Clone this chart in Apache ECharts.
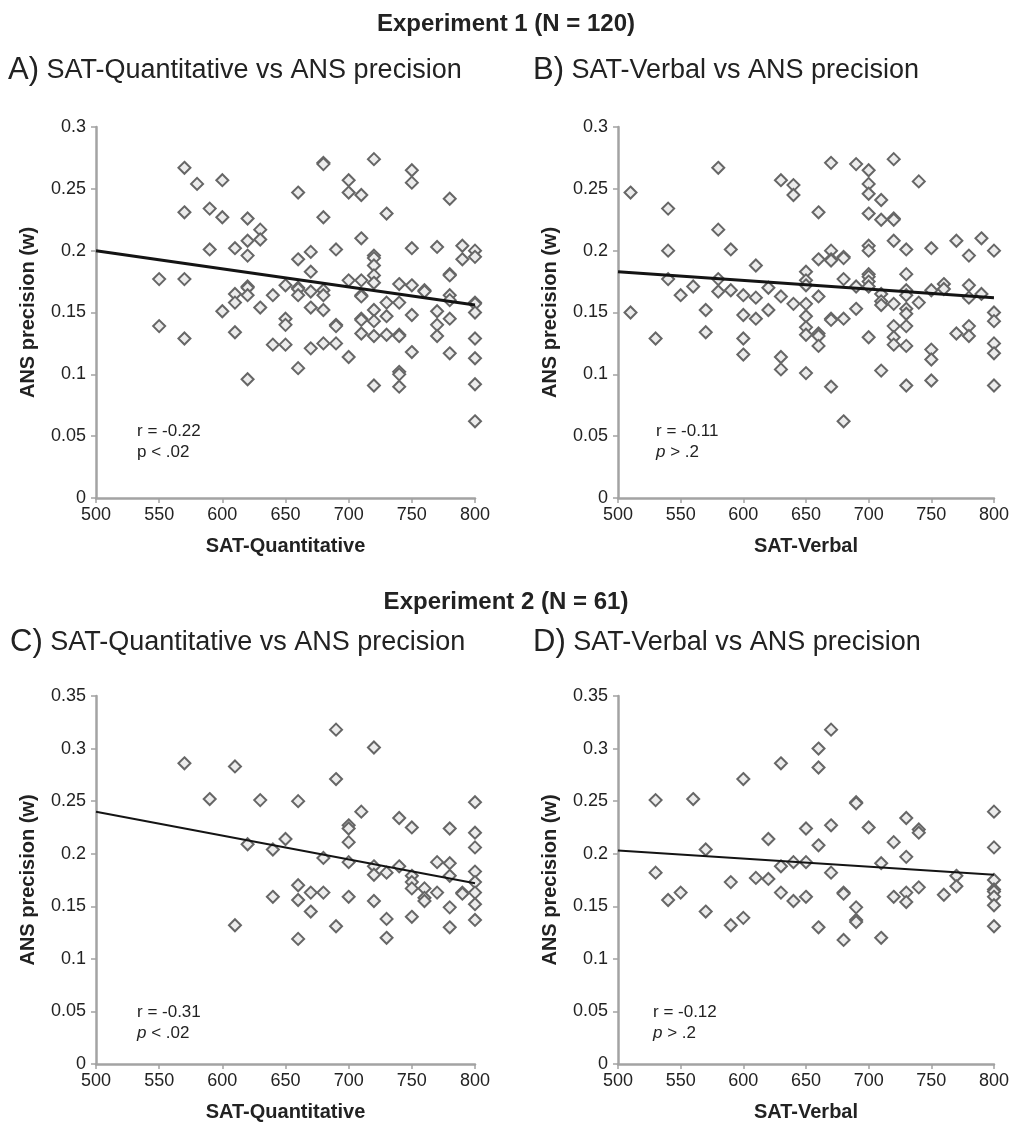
<!DOCTYPE html>
<html>
<head>
<meta charset="utf-8">
<title>SAT vs ANS precision</title>
<script src="https://cdn.jsdelivr.net/npm/echarts@6/dist/echarts.min.js"></script>
<style>
  html, body { margin: 0; padding: 0; background: #fff; }
  #chart { width: 1012px; height: 1123px; }
</style>
</head>
<body>
<div id="chart"></div>
<script>
// Experiment 1, panel A: [SAT-Quantitative, ANS w]
const expOneQuant = [
  [570,0.267],[580,0.254],[600,0.257],[570,0.231],[590,0.234],[600,0.227],[620,0.226],[630,0.217],
  [620,0.208],[630,0.209],[590,0.201],[610,0.202],[620,0.196],[550,0.177],[570,0.177],
  [660,0.247],[680,0.271],[680,0.27],[680,0.227],[660,0.193],[670,0.199],[670,0.183],[690,0.201],
  [700,0.257],[700,0.247],[710,0.245],[720,0.274],[710,0.21],[730,0.23],[720,0.196],[720,0.194],
  [720,0.188],[720,0.18],[720,0.174],[750,0.265],[750,0.255],[750,0.202],[770,0.203],[780,0.242],
  [780,0.181],[780,0.18],[790,0.204],[790,0.193],[800,0.2],[800,0.195],
  [700,0.176],[710,0.176],[740,0.173],[750,0.172],[760,0.168],[760,0.167],[780,0.164],[780,0.16],
  [800,0.158],[800,0.157],
  [610,0.165],[610,0.158],[620,0.171],[620,0.17],[620,0.164],[640,0.164],[650,0.172],[660,0.17],
  [660,0.169],[660,0.164],[670,0.167],[680,0.168],[680,0.164],[710,0.164],[710,0.163],[730,0.158],
  [740,0.158],[600,0.151],[630,0.154],[670,0.154],[680,0.152],[770,0.151],[800,0.15],
  [650,0.145],[650,0.14],[710,0.145],[710,0.144],[720,0.152],[750,0.148],[780,0.145],[550,0.139],
  [570,0.129],[610,0.134],[690,0.14],[690,0.139],[710,0.133],[720,0.143],[720,0.131],[730,0.147],
  [730,0.132],[740,0.132],[740,0.131],[770,0.14],[770,0.131],[800,0.129],[640,0.124],[650,0.124],
  [670,0.121],[680,0.125],[690,0.125],[700,0.114],[750,0.118],[780,0.117],[800,0.113],[660,0.105],
  [620,0.096],[740,0.102],[740,0.1],[720,0.091],[740,0.09],[800,0.092],[800,0.062]
];

// Experiment 1, panel B: [SAT-Verbal, ANS w]
const expOneVerbal = [
  [510,0.247],[540,0.234],[540,0.2],[540,0.177],[510,0.15],[550,0.164],[560,0.171],[570,0.152],
  [580,0.267],[580,0.217],[580,0.177],[580,0.167],[590,0.201],[590,0.168],[600,0.164],[600,0.148],
  [610,0.188],[610,0.162],[610,0.145],[620,0.17],[620,0.152],[630,0.257],[630,0.163],[640,0.253],
  [640,0.245],[640,0.157],[650,0.183],[650,0.176],[650,0.172],[650,0.157],[650,0.147],[660,0.231],
  [660,0.193],[660,0.163],[670,0.271],[670,0.2],[670,0.193],[670,0.192],[670,0.145],[670,0.144],
  [680,0.195],[680,0.194],[680,0.177],[680,0.145],[690,0.27],[690,0.171],[690,0.153],[700,0.265],
  [700,0.254],[700,0.246],[700,0.23],[700,0.204],[700,0.2],[700,0.181],[700,0.179],[700,0.175],
  [700,0.171],[710,0.241],[710,0.225],[710,0.165],[710,0.159],[710,0.156],[720,0.274],[720,0.226],
  [720,0.225],[720,0.208],[720,0.157],[730,0.201],[730,0.181],[730,0.168],[730,0.164],[730,0.153],
  [730,0.149],[740,0.256],[740,0.158],[750,0.202],[750,0.168],[760,0.173],[760,0.169],[770,0.208],
  [780,0.196],[780,0.172],[780,0.162],[790,0.21],[790,0.165],[800,0.2],[800,0.15],
  [530,0.129],[570,0.134],[600,0.129],[600,0.116],[630,0.114],[630,0.104],[650,0.138],[650,0.132],
  [650,0.101],[660,0.133],[660,0.131],[660,0.123],[670,0.09],[680,0.062],[700,0.13],[710,0.103],
  [720,0.139],[720,0.13],[720,0.124],[730,0.139],[730,0.123],[730,0.091],[750,0.12],[750,0.112],
  [750,0.095],[770,0.133],[780,0.139],[780,0.131],[800,0.143],[800,0.125],[800,0.117],[800,0.091]
];

// Experiment 2, panel C
const expTwoQuant = [
  [570,0.286],[610,0.283],[690,0.318],[720,0.301],[690,0.271],[590,0.252],[630,0.251],[660,0.25],
  [800,0.249],[710,0.24],[740,0.234],[750,0.225],[700,0.227],[700,0.224],[780,0.224],[800,0.22],
  [800,0.206],[700,0.211],[620,0.209],[640,0.204],[650,0.214],[680,0.196],[700,0.192],[720,0.188],
  [740,0.188],[770,0.192],[780,0.191],[800,0.183],[720,0.18],[730,0.182],[750,0.179],
  [750,0.173],[750,0.167],[780,0.179],[800,0.173],[660,0.17],[670,0.163],[680,0.163],[660,0.156],
  [640,0.159],[670,0.145],[700,0.159],[720,0.155],[760,0.167],[760,0.158],[760,0.155],[770,0.163],
  [790,0.163],[790,0.162],[800,0.163],[800,0.152],[780,0.149],[730,0.138],[750,0.14],[800,0.137],
  [610,0.132],[690,0.131],[780,0.13],[660,0.119],[730,0.12]
];

// Experiment 2, panel D
const expTwoVerbal = [
  [530,0.251],[560,0.252],[600,0.271],[630,0.286],[660,0.3],[660,0.282],[670,0.318],[690,0.249],
  [690,0.248],[570,0.204],[620,0.214],[650,0.224],[660,0.208],[670,0.227],[700,0.225],[720,0.211],
  [730,0.234],[740,0.223],[740,0.22],[800,0.24],[800,0.206],[730,0.197],[710,0.191],[630,0.188],
  [640,0.192],[650,0.192],[530,0.182],[670,0.182],
  [770,0.179],[770,0.169],[760,0.161],[740,0.168],[730,0.163],[730,0.154],[720,0.159],[800,0.175],
  [800,0.166],[800,0.164],[800,0.159],[800,0.151],[800,0.131],[540,0.156],[550,0.163],[590,0.173],
  [610,0.177],[620,0.176],[630,0.163],[640,0.155],[650,0.159],[680,0.163],[680,0.162],[690,0.149],
  [690,0.137],[690,0.135],[570,0.145],[590,0.132],[600,0.139],[660,0.13],[680,0.118],[710,0.12]
];

// regression lines (end points)
const trendA = [[500,0.2],[800,0.156]];
const trendB = [[500,0.183],[800,0.162]];
const trendC = [[500,0.24],[800,0.172]];
const trendD = [[500,0.203],[800,0.18]];

const yMaxTop = 0.3;
const yMaxBottom = 0.35;

const chart = echarts.init(document.getElementById('chart'));
const FONT = 'Liberation Sans, Arial, sans-serif';
const axisGray = '#a3a3a3';

const panels = [
  { grid: { left: 96,  top: 127, width: 379, height: 371 }, data: expOneQuant,  trend: trendA, yMax: yMaxTop,    xName: 'SAT-Quantitative', lw: 3 },
  { grid: { left: 618, top: 127, width: 379, height: 371 }, data: expOneVerbal, trend: trendB, yMax: yMaxTop,    xName: 'SAT-Verbal',       lw: 3 },
  { grid: { left: 96,  top: 696, width: 379, height: 370 }, data: expTwoQuant,  trend: trendC, yMax: yMaxBottom, xName: 'SAT-Quantitative', lw: 2 },
  { grid: { left: 618, top: 696, width: 379, height: 370 }, data: expTwoVerbal, trend: trendD, yMax: yMaxBottom, xName: 'SAT-Verbal',       lw: 2 }
];

const grids = [], xAxes = [], yAxes = [], series = [];
panels.forEach((p, i) => {
  grids.push(p.grid);
  xAxes.push({
    gridIndex: i, type: 'value', min: 500, max: 800, interval: 50,
    name: p.xName, nameLocation: 'middle', nameGap: 38,
    nameTextStyle: { fontFamily: FONT, fontSize: 20, fontWeight: 'bold', color: '#222' },
    axisLine: { lineStyle: { color: axisGray, width: 2.5 } },
    axisTick: { length: 5, lineStyle: { color: axisGray, width: 1.5 } },
    axisLabel: { fontFamily: FONT, fontSize: 18, color: '#222', margin: 8 },
    splitLine: { show: false }
  });
  yAxes.push({
    gridIndex: i, type: 'value', min: 0, max: p.yMax, interval: 0.05,
    name: 'ANS precision (w)', nameLocation: 'middle', nameRotate: 90, nameGap: 58,
    nameTextStyle: { fontFamily: FONT, fontSize: 20, fontWeight: 'bold', color: '#222' },
    axisLine: { show: true, lineStyle: { color: axisGray, width: 2.5 } },
    axisTick: { show: true, length: 5, lineStyle: { color: axisGray, width: 1.5 } },
    axisLabel: { fontFamily: FONT, fontSize: 18, color: '#222', margin: 10 },
    splitLine: { show: false }
  });
  series.push({
    type: 'scatter', xAxisIndex: i, yAxisIndex: i, data: p.data,
    symbol: 'diamond', symbolSize: 12,
    itemStyle: { color: '#ececec', borderColor: '#666', borderWidth: 2, opacity: 1 }
  });
  series.push({
    type: 'line', xAxisIndex: i, yAxisIndex: i, data: p.trend,
    showSymbol: false, symbol: 'none', z: 5,
    lineStyle: { color: '#141414', width: p.lw }
  });
});

const headStyle = { fontFamily: FONT, fontSize: 24, fontWeight: 'bold', color: '#222' };
const panelStyle = {
  fontFamily: FONT, fontSize: 27, fontWeight: 'normal', color: '#222',
  rich: { l: { fontFamily: FONT, fontSize: 31, fontWeight: 'normal', color: '#222' } }
};
const noteStyle = {
  fontFamily: FONT, fontSize: 17, fontWeight: 'normal', color: '#222', lineHeight: 21,
  rich: { i: { fontFamily: FONT, fontSize: 17, fontWeight: 'normal', fontStyle: 'italic', color: '#222' } }
};
const noPad = { padding: 0, itemGap: 0 };

chart.setOption({
  animation: false,
  title: [
    Object.assign({ text: 'Experiment 1 (N = 120)', left: 'center', top: 12, textStyle: headStyle }, noPad),
    Object.assign({ text: '{l|A)} SAT-Quantitative vs ANS precision', left: 8, top: 55, textStyle: panelStyle }, noPad),
    Object.assign({ text: '{l|B)} SAT-Verbal vs ANS precision', left: 533, top: 55, textStyle: panelStyle }, noPad),
    Object.assign({ text: 'r = -0.22\np < .02', left: 137, top: 421, textStyle: noteStyle }, noPad),
    Object.assign({ text: 'r = -0.11\n{i|p} > .2', left: 656, top: 421, textStyle: noteStyle }, noPad),
    Object.assign({ text: 'Experiment 2 (N = 61)', left: 'center', top: 590, textStyle: headStyle }, noPad),
    Object.assign({ text: '{l|C)} SAT-Quantitative vs ANS precision', left: 10, top: 627, textStyle: panelStyle }, noPad),
    Object.assign({ text: '{l|D)} SAT-Verbal vs ANS precision', left: 533, top: 627, textStyle: panelStyle }, noPad),
    Object.assign({ text: 'r = -0.31\n{i|p} < .02', left: 137, top: 1002, textStyle: noteStyle }, noPad),
    Object.assign({ text: 'r = -0.12\n{i|p} > .2', left: 653, top: 1002, textStyle: noteStyle }, noPad)
  ],
  grid: grids,
  xAxis: xAxes,
  yAxis: yAxes,
  series: series
});
</script>
</body>
</html>
